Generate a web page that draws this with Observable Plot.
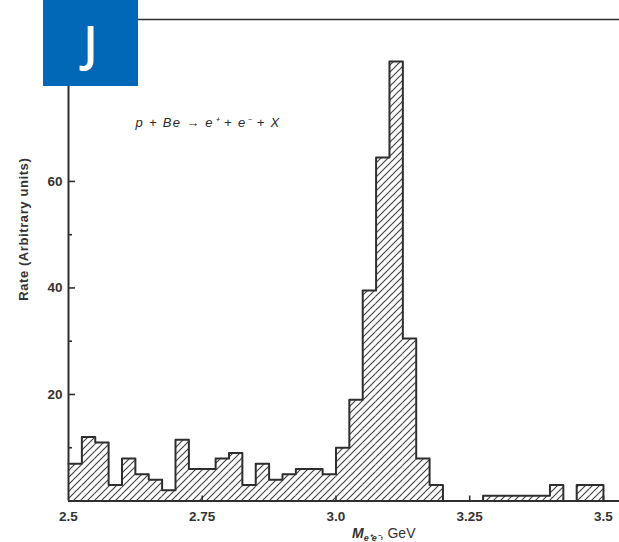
<!DOCTYPE html>
<html><head><meta charset="utf-8">
<script src="https://cdn.jsdelivr.net/npm/d3@7"></script>
<script src="https://cdn.jsdelivr.net/npm/@observablehq/plot@0.6"></script>
<style>
body{margin:0;background:#fff;}
#wrap{position:relative;width:619px;height:542px;overflow:hidden;background:#fff;}
#badge{position:absolute;left:43px;top:0;width:95px;height:86px;background:#0068b7;color:#fff;font-family:"Open Sans",sans-serif;font-weight:600;font-size:48px;line-height:86px;text-align:center;z-index:2;}
</style></head><body><div id="wrap"><div id="badge">J</div></div>
<script>
// Bin lower edges (GeV), bin width 0.025 GeV
const binStart = [2.500,2.525,2.550,2.575,2.600,2.625,2.650,2.675,2.700,2.725,
                  2.750,2.775,2.800,2.825,2.850,2.875,2.900,2.925,2.950,2.975,
                  3.000,3.025,3.050,3.075,3.100,3.125,3.150,3.175,3.200,3.225,
                  3.250,3.275,3.300,3.325,3.350,3.375,3.400,3.425,3.450,3.475];
const rate = [7,12,11,3,8,5,4,2,11.5,6,
              6,8,9,3,7,4,5,6,6,5,
              10,19,39.5,64.5,82.5,30.5,8,3,0,0,
              0,1,1,1,1,1,3,0,3,3];
const binWidth = 0.025;
const xTicks = [2.5, 2.75, 3.0, 3.25, 3.5];
const xTickLabels = ["2.5", "2.75", "3.0", "3.25", "3.5"];
const yTicksMajor = [20, 40, 60];
const yTicksMinor = [10, 30, 50];
const reaction = "p + Be \u2192 e\u207A + e\u207B + X";
const yLabel = "Rate (Arbitrary units)";

const bins = binStart.map((x0, i) => ({x0, x1: x0 + binWidth, rate: rate[i]}));
const outline = bins.map(b => ({x: b.x0, y: b.rate}));
outline.push({x: bins[bins.length-1].x1, y: rate[rate.length-1]});
outline.push({x: bins[bins.length-1].x1, y: 0});

const W = 619, H = 542, mT = 19, mB = 41.5, mL = 68, mR = 0;
const plotH = H - mT - mB;

const svg = Plot.plot({
  width: W, height: H,
  marginTop: mT, marginBottom: mB, marginLeft: mL, marginRight: mR,
  x: {domain: [2.5, 3.53]},
  y: {domain: [0, 90.4]},
  style: {fontFamily: "'Liberation Sans', Arial, sans-serif", fontSize: "13.5px", fontWeight: "bold", color: "#333", background: "white"},
  marks: [
    Plot.rect(bins, {x1: "x0", x2: "x1", y1: d => 0, y2: "rate", fill: "url(#hatch)"}),
    Plot.line(outline, {x: "x", y: "y", curve: "step-after", stroke: "#2e2e2e", strokeWidth: 2}),
    Plot.ruleX([2.5], {stroke: "#2e2e2e", strokeWidth: 2}),
    Plot.ruleY([0], {stroke: "#2e2e2e", strokeWidth: 2}),
    Plot.ruleY([90.4], {stroke: "#2e2e2e", strokeWidth: 1.6}),
    Plot.tickY(yTicksMajor, {y: d => d, stroke: "#2e2e2e", strokeWidth: 1.6, insetRight: W - mL - mR - 7}),
    Plot.tickY(yTicksMinor, {y: d => d, stroke: "#2e2e2e", strokeWidth: 1.6, insetRight: W - mL - mR - 4}),
    Plot.tickX(xTicks.slice(1), {x: d => d, stroke: "#2e2e2e", strokeWidth: 1.6, insetTop: plotH - 5}),
    Plot.axisX({ticks: xTicks, tickSize: 0, tickPadding: 10, label: null,
      tickFormat: d => xTickLabels[xTicks.indexOf(d)], fill: "#333"}),
    Plot.axisY({ticks: yTicksMajor, tickSize: 0, tickPadding: 6, label: null, fill: "#333"}),
    Plot.text([reaction], {frameAnchor: "top-left", dx: 67, dy: 98, text: d => d, textAnchor: "start",
      fontStyle: "italic", fontWeight: "normal", fontSize: 13, fill: "#2a2a2a"}),
    Plot.text([yLabel], {frameAnchor: "left", rotate: -90, dx: -45, dy: -31, text: d => d,
      textAnchor: "middle", fontSize: 13, fill: "#333"})
  ]
});

d3.select(svg).insert("defs", ":first-child").html(
  '<pattern id="hatch" patternUnits="userSpaceOnUse" width="7" height="7">' +
  '<path d="M-1,1 l2,-2 M0,7 l7,-7 M6,8 l2,-2" stroke="#444" stroke-width="1.2"/></pattern>');

// spread the reaction text and y label to match the scanned lettering
d3.select(svg).selectAll("text").filter(function() { return this.textContent === reaction; })
  .attr("letter-spacing", "1.3px");
d3.select(svg).selectAll("text").filter(function() { return this.textContent === yLabel; })
  .attr("letter-spacing", "0.6px");

const t = d3.select(svg).append("text")
  .attr("x", 352).attr("y", 538).attr("text-anchor", "start")
  .attr("fill", "#333").attr("font-size", 14);
t.append("tspan").attr("font-style", "italic").text("M");
t.append("tspan").attr("font-style", "italic").attr("font-size", 9).attr("dy", 3).text("e\u207Ae\u207B");
t.append("tspan").attr("dy", -3).attr("font-weight", "normal").text(", GeV");

document.getElementById("wrap").appendChild(svg);
</script>
</body></html>
